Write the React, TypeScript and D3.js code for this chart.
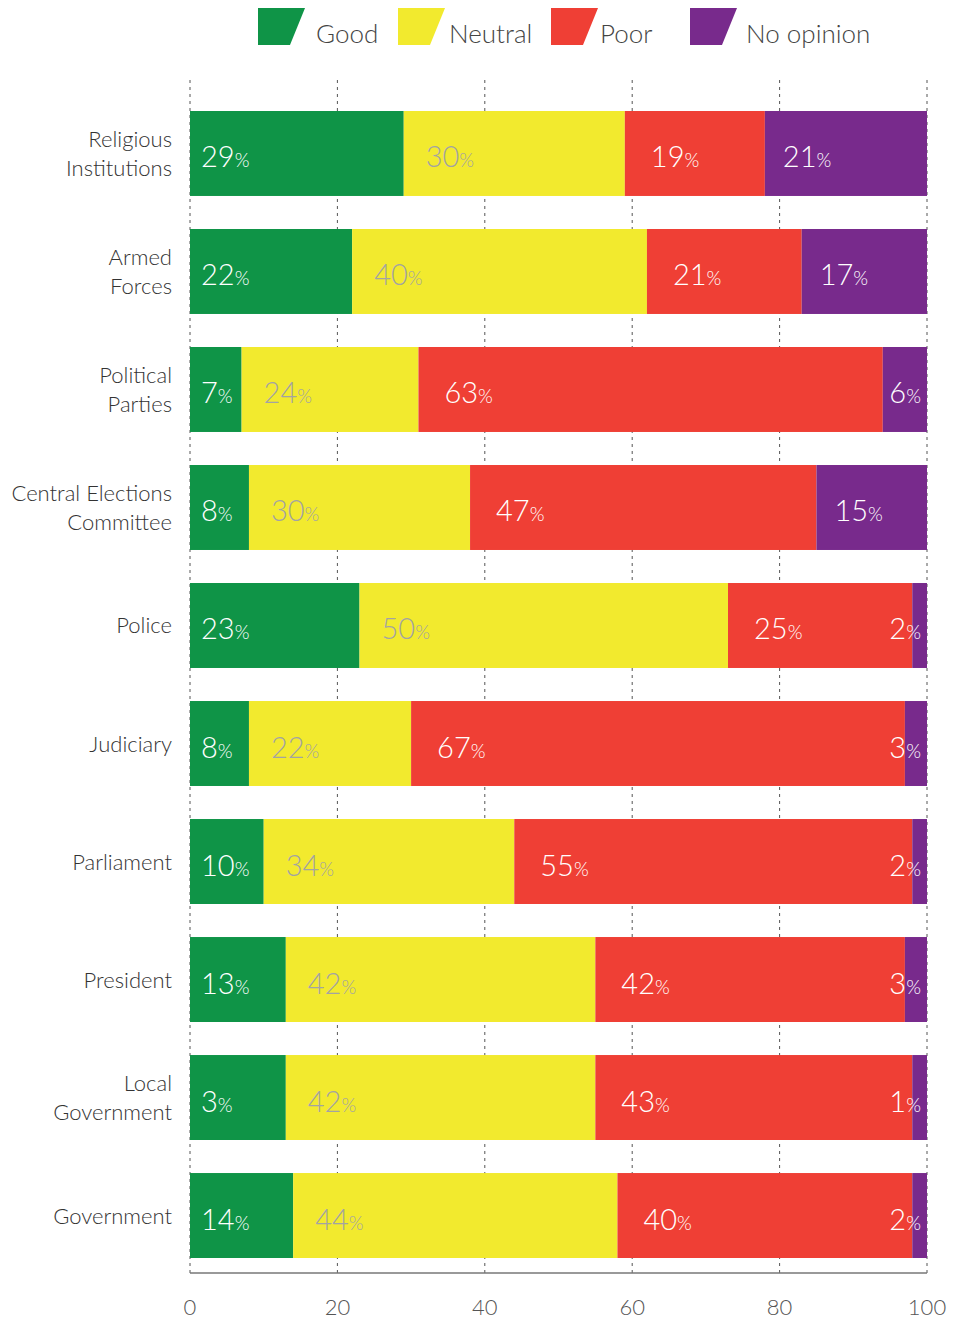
import React from "react";
import * as d3 from "d3";

const categories = [
  "Religious Institutions",
  "Armed Forces",
  "Political Parties",
  "Central Elections Committee",
  "Police",
  "Judiciary",
  "Parliament",
  "President",
  "Local Government",
  "Government",
];
const categoryLines = [
  ["Religious", "Institutions"],
  ["Armed", "Forces"],
  ["Political", "Parties"],
  ["Central Elections", "Committee"],
  ["Police"],
  ["Judiciary"],
  ["Parliament"],
  ["President"],
  ["Local", "Government"],
  ["Government"],
];
const seriesNames = ["Good", "Neutral", "Poor", "No opinion"];
// bar lengths as drawn in the picture
const good = [29, 22, 7, 8, 23, 8, 10, 13, 13, 14];
const neutral = [30, 40, 24, 30, 50, 22, 34, 42, 42, 44];
const poor = [19, 21, 63, 47, 25, 67, 54, 42, 43, 40];
const noOpinion = [22, 17, 6, 15, 2, 3, 2, 3, 2, 2];
// printed labels
const goodLabels = [29, 22, 7, 8, 23, 8, 10, 13, 3, 14];
const neutralLabels = [30, 40, 24, 30, 50, 22, 34, 42, 42, 44];
const poorLabels = [19, 21, 63, 47, 25, 67, 55, 42, 43, 40];
const noOpinionLabels = [21, 17, 6, 15, 2, 3, 2, 3, 1, 2];
const xTicks = [0, 20, 40, 60, 80, 100];

const colors = ["#0f9447", "#f2ea2e", "#ef3f35", "#782a8c"];
const labelColors = ["#ffffff", "#a3a3a3", "#ffffff", "#ffffff"];
const labelOffsets = [11, 22, 26, 18];
const FONT = "Lato, 'Open Sans', sans-serif";

export default function App() {
  const W = 953;
  const H = 1321;
  const x = d3.scaleLinear().domain([0, 100]).range([190, 927]);
  const y = d3
    .scaleBand<string>()
    .domain(categories)
    .range([111, 111 + 10 * 118 - 33])
    .paddingInner(0.28)
    .paddingOuter(0);

  const values = [good, neutral, poor, noOpinion];
  const labels = [goodLabels, neutralLabels, poorLabels, noOpinionLabels];
  const rows = categories.map((c, i) => {
    const obj: any = { cat: c };
    seriesNames.forEach((s, k) => (obj[s] = values[k][i]));
    return obj;
  });
  const stacked = d3.stack<any>().keys(seriesNames)(rows);

  const legendX = [258, 398, 551, 690];
  const legendTextX = [316, 449, 600, 746];

  return (
    <svg
      width={W}
      height={H}
      style={{ display: "block", position: "absolute", left: 0, top: 0, fontFamily: FONT }}
    >
      {/* legend */}
      {seriesNames.map((s, k) => (
        <g key={s}>
          <path
            d={`M${legendX[k]},8 L${legendX[k] + 47},8 L${legendX[k] + 32},45 L${legendX[k]},45 Z`}
            fill={colors[k]}
          />
          <text x={legendTextX[k]} y={43} fontSize={26} fontWeight={300} fill="#444">
            {s}
          </text>
        </g>
      ))}
      {/* grid */}
      {xTicks.map((t) => (
        <line
          key={t}
          x1={x(t)}
          x2={x(t)}
          y1={80}
          y2={1273}
          stroke="#555"
          strokeWidth={1}
          strokeDasharray="3,4"
        />
      ))}
      {/* bars */}
      {stacked.map((layer, k) =>
        layer.map((d, i) => {
          const x0 = x(d[0]);
          const x1 = x(d[1]);
          const yy = y(categories[i]) as number;
          return (
            <rect
              key={`${k}-${i}`}
              x={x0}
              y={yy}
              width={x1 - x0}
              height={y.bandwidth()}
              fill={colors[k]}
            />
          );
        })
      )}
      {/* value labels */}
      {stacked.map((layer, k) =>
        layer.map((d, i) => {
          const x0 = x(d[0]);
          const x1 = x(d[1]);
          const yy = (y(categories[i]) as number) + y.bandwidth() / 2 + 14;
          const narrow = x1 - x0 < 50;
          return (
            <text
              key={`l${k}-${i}`}
              x={narrow ? x(100) - 6 : x0 + labelOffsets[k]}
              y={yy}
              textAnchor={narrow ? "end" : "start"}
              fill={labelColors[k]}
              fontWeight={300}
            >
              <tspan fontSize={29}>{labels[k][i]}</tspan>
              <tspan fontSize={19}>%</tspan>
            </text>
          );
        })
      )}
      {/* category labels */}
      {categories.map((c, i) => {
        const lines = categoryLines[i];
        const cy = (y(c) as number) + y.bandwidth() / 2;
        return (
          <text key={c} textAnchor="end" fontSize={22} fontWeight={300} fill="#333">
            {lines.map((ln, j) => (
              <tspan key={j} x={172} y={cy + 8 + (j - (lines.length - 1) / 2) * 29}>
                {ln}
              </tspan>
            ))}
          </text>
        );
      })}
      {/* axis */}
      <line x1={x(0)} x2={x(100)} y1={1273} y2={1273} stroke="#777" strokeWidth={1.5} />
      {xTicks.map((t) => (
        <text
          key={`t${t}`}
          x={x(t)}
          y={1315}
          textAnchor="middle"
          fontSize={22}
          fontWeight={300}
          fill="#555"
        >
          {t}
        </text>
      ))}
    </svg>
  );
}
